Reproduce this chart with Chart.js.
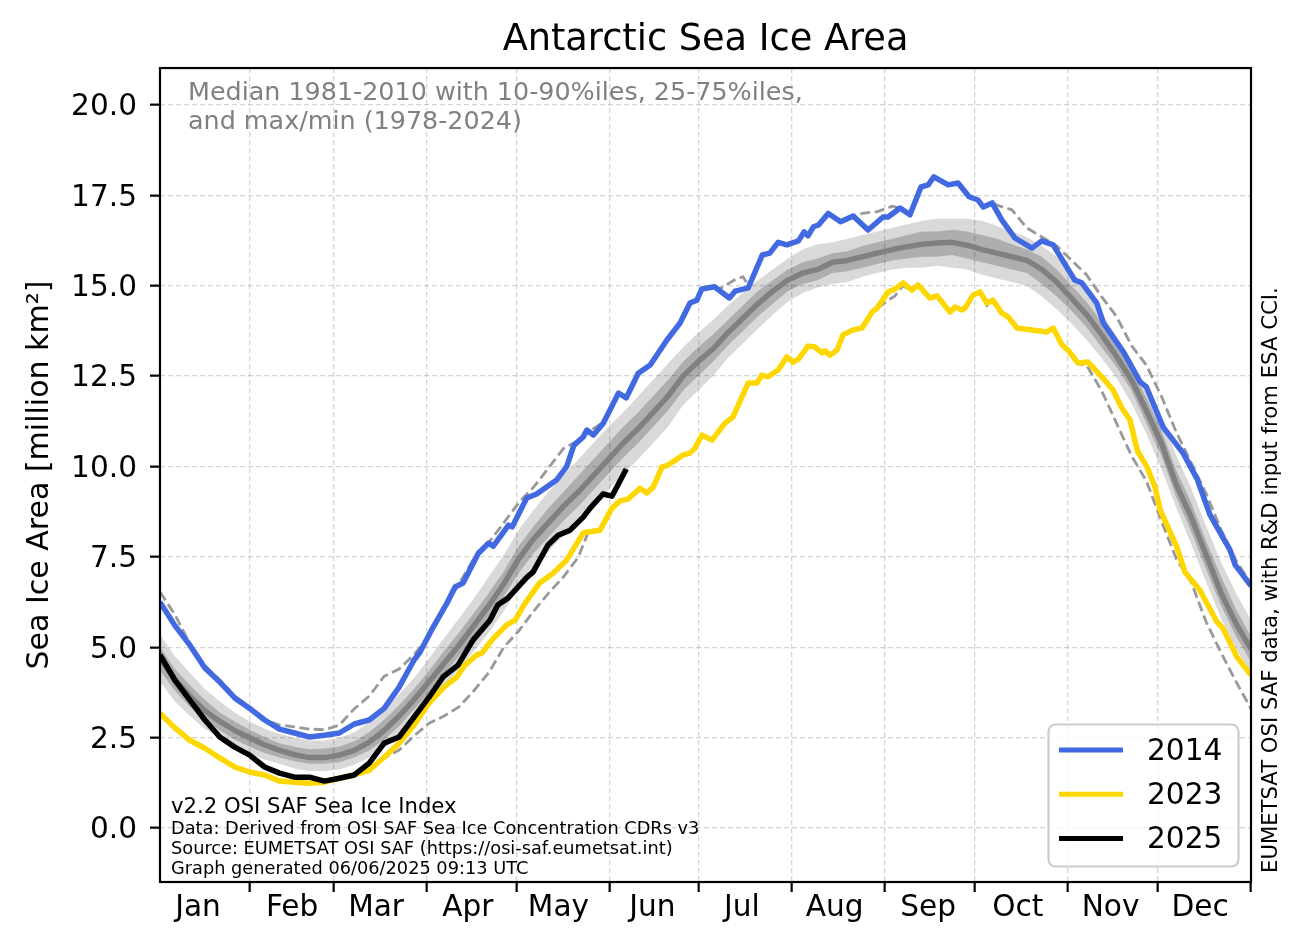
<!DOCTYPE html>
<html>
<head>
<meta charset="utf-8">
<title>Antarctic Sea Ice Area</title>
<script src="https://cdn.jsdelivr.net/npm/chart.js@4"></script>
<style>
  html, body { margin: 0; padding: 0; background: #fff; }
  canvas { display: block; }
</style>
</head>
<body>
<canvas id="chart" width="1303" height="943"></canvas>
<script>
const monthNames = ["Jan", "Feb", "Mar", "Apr", "May", "Jun", "Jul", "Aug", "Sep", "Oct", "Nov", "Dec"];
const monthLabelDays = [12.7, 44.2, 72.3, 103, 133.3, 164.7, 194.7, 225.7, 257, 287, 318, 348];
const monthEdgeDays = [30.1, 58.2, 89.3, 119.4, 150.5, 180.3, 211.4, 242.5, 272.6, 303.7, 333.8, 365];
const yTicks = [0, 2.5, 5, 7.5, 10, 12.5, 15, 17.5, 20];

const days2014 = [
  0, 5, 10, 15, 20, 25, 30, 35, 40, 45,
  50, 55, 60, 65, 70, 75, 80, 85, 87, 91.4,
  96, 98.7, 101.4, 106.5, 109.9, 111.5, 116.6, 117.8, 122.7, 126,
  132.7, 136, 138.5, 141.6, 142.8, 145, 148.3, 153.4, 156, 160,
  164, 169.6, 174, 177.3, 179.6, 181.3, 185.5, 190.5, 192.4, 196.8,
  201.5, 204, 206.8, 209.7, 213.6, 215.5, 216.8, 218.6, 220.3, 223.6,
  227.7, 231.9, 236.9, 241.9, 243.6, 247.6, 250.9, 254.6, 257, 258.9,
  263.7, 267, 270.7, 273.7, 275.4, 278.4, 281.6, 286, 291.7, 295,
  298.8, 306, 308.4, 313.4, 315.6, 322.3, 327.9, 330, 335.6, 342.3,
  347, 351.3, 358, 359.7, 365
];
const values2014 = [
  6.25, 5.6, 5.06, 4.43, 4.04, 3.6, 3.31, 2.99, 2.74, 2.63,
  2.52, 2.57, 2.63, 2.88, 2.99, 3.31, 3.9, 4.65, 4.87, 5.56,
  6.22, 6.67, 6.78, 7.6, 7.88, 7.8, 8.38, 8.33, 9.13, 9.24,
  9.63, 9.99, 10.59, 10.82, 11.01, 10.87, 11.2, 12.03, 11.9, 12.58,
  12.81, 13.5, 13.97, 14.52, 14.6, 14.91, 14.97, 14.66, 14.85, 14.94,
  15.85, 15.9, 16.2, 16.13, 16.24, 16.49, 16.38, 16.63, 16.68, 17.0,
  16.77, 16.93, 16.54, 16.9, 16.9, 17.15, 16.96, 17.73, 17.79, 18.01,
  17.79, 17.84, 17.46, 17.37, 17.18, 17.29, 16.82, 16.32, 16.04, 16.24,
  16.13, 15.16, 15.08, 14.52, 13.97, 13.17, 12.34, 12.2, 11.09, 10.37,
  9.65, 8.66, 7.69, 7.28, 6.7
];
const days2023 = [
  0, 5, 10, 15, 20, 25, 30, 35, 40, 45,
  50, 55, 60, 65, 70, 75, 80, 85, 90, 95,
  99.3, 102, 106, 107.7, 111, 116, 118.8, 122, 127, 131.5,
  136, 141.6, 143.2, 147.2, 151.2, 153.9, 156.6, 160.6, 162.9, 165,
  168, 170, 175, 177.3, 179, 181.3, 184.7, 189, 191.7, 196.8,
  199.7, 201.4, 203.4, 206.8, 209.7, 211.8, 213.6, 216.8, 219, 221.5,
  222.5, 224.2, 226.5, 228.5, 231.9, 234.9, 238.2, 239.9, 243.6, 245.9,
  248.6, 251.6, 253.6, 257.6, 260, 264.3, 266, 268.3, 269.3, 272,
  274.3, 276.7, 278.7, 281.6, 283.7, 286.7, 296.7, 298.8, 301.8, 303.8,
  307.1, 310.5, 315.1, 318.8, 321.8, 324.5, 327, 330.2, 332.9, 334.6,
  340.2, 342.9, 347.9, 353.6, 355.6, 360.3, 365
];
const values2023 = [
  3.18, 2.77, 2.43, 2.21, 1.94, 1.69, 1.55, 1.47, 1.3, 1.27,
  1.24, 1.27, 1.38, 1.47, 1.6, 1.96, 2.35, 2.85, 3.46, 3.9,
  4.18, 4.51, 4.79, 4.84, 5.2, 5.62, 5.75, 6.2, 6.78, 7.05,
  7.41, 8.16, 8.19, 8.24, 8.85, 9.05, 9.1, 9.4, 9.27, 9.43,
  9.99, 10.04, 10.32, 10.37, 10.51, 10.87, 10.73, 11.2, 11.37, 12.31,
  12.31, 12.53, 12.48, 12.67, 13.03, 12.89, 12.97, 13.33, 13.31, 13.14,
  13.2, 13.08, 13.22, 13.64, 13.78, 13.83, 14.27, 14.38, 14.83, 14.91,
  15.08, 14.88, 15.02, 14.66, 14.72, 14.27, 14.41, 14.33, 14.38, 14.74,
  14.83, 14.52, 14.6, 14.25, 14.14, 13.83, 13.72, 13.83, 13.36, 13.22,
  12.86, 12.89, 12.48, 12.12, 11.62, 11.29, 10.43, 9.99, 9.43, 8.8,
  7.77, 7.08, 6.58, 5.7, 5.53, 4.73, 4.23
];
const days2025 = [
  0, 5, 10, 15, 20, 25, 30, 35, 40, 45,
  50, 55, 60, 65, 70, 75, 80, 85, 90, 94.7,
  99.7, 104.7, 110.4, 113, 116.4, 122.8, 124.8, 129.8, 133.2, 137.2,
  141.6, 143.9, 148.2, 151.2, 156
];
const values2025 = [
  4.79, 4.09, 3.54, 2.99, 2.52, 2.24, 2.02, 1.69, 1.52, 1.41,
  1.41, 1.3, 1.38, 1.47, 1.8, 2.35, 2.52, 3.07, 3.62, 4.18,
  4.51, 5.2, 5.75, 6.17, 6.36, 6.94, 7.08, 7.83, 8.1, 8.24,
  8.6, 8.85, 9.24, 9.18, 9.93
];

const bandDays = [
  0, 5, 10, 15, 20, 25, 30, 35, 40, 45,
  50, 55, 60, 65, 70, 75, 80, 85, 90, 95,
  100, 105, 110, 115, 120, 125, 130, 135, 140, 145,
  150, 155, 160, 165, 170, 175, 180, 185, 190, 195,
  200, 205, 210, 215, 220, 225, 230, 235, 240, 245,
  250, 255, 260, 265, 270, 275, 280, 285, 290, 295,
  300, 305, 310, 315, 320, 325, 330, 335, 340, 345,
  350, 355, 360, 365
];
const median = [
  4.7, 4.1, 3.65, 3.25, 2.95, 2.7, 2.5, 2.3, 2.15, 2.03,
  1.95, 1.95, 2.02, 2.15, 2.38, 2.7, 3.1, 3.55, 4.05, 4.55,
  5.05, 5.6, 6.15, 6.75, 7.45, 8.0, 8.45, 8.9, 9.3, 9.75,
  10.2, 10.65, 11.05, 11.5, 11.95, 12.5, 12.9, 13.25, 13.7, 14.1,
  14.5, 14.85, 15.15, 15.35, 15.45, 15.65, 15.7, 15.8, 15.9, 16.0,
  16.08, 16.15, 16.18, 16.2, 16.12, 16.0, 15.9, 15.8, 15.7, 15.45,
  15.1, 14.65, 14.2, 13.65, 13.05, 12.4, 11.55, 10.65, 9.5, 8.6,
  7.55, 6.5, 5.65, 4.95
];
const p90 = [
  5.35, 4.75, 4.3, 3.85, 3.5, 3.2, 2.95, 2.75, 2.6, 2.5,
  2.42, 2.42, 2.5, 2.65, 2.92, 3.25, 3.7, 4.15, 4.7, 5.25,
  5.8, 6.35, 6.95, 7.55, 8.25, 8.8, 9.3, 9.75, 10.2, 10.65,
  11.1, 11.5, 11.95, 12.4, 12.85, 13.3, 13.7, 14.05, 14.45, 14.8,
  15.15, 15.45, 15.75, 16.0, 16.15, 16.2, 16.3, 16.4, 16.5, 16.6,
  16.7, 16.8, 16.85, 16.85, 16.85, 16.8, 16.65, 16.5, 16.35, 16.1,
  15.8, 15.35, 14.85, 14.25, 13.6, 12.95, 12.15, 11.35, 10.3, 9.4,
  8.35, 7.35, 6.5, 5.75
];
const p75 = [
  5.0, 4.4, 3.95, 3.55, 3.2, 2.95, 2.72, 2.52, 2.35, 2.25,
  2.18, 2.2, 2.26, 2.4, 2.65, 3.0, 3.4, 3.85, 4.35, 4.9,
  5.4, 5.95, 6.5, 7.1, 7.8, 8.35, 8.85, 9.3, 9.75, 10.2,
  10.65, 11.1, 11.5, 11.95, 12.4, 12.9, 13.3, 13.65, 14.05, 14.45,
  14.85, 15.15, 15.45, 15.65, 15.75, 15.9, 15.95, 16.1, 16.2, 16.3,
  16.4, 16.5, 16.5, 16.55, 16.5, 16.4, 16.3, 16.15, 16.0, 15.8,
  15.45, 15.0, 14.55, 14.0, 13.35, 12.7, 11.9, 11.0, 9.9, 9.0,
  7.95, 6.95, 6.05, 5.3
];
const p25 = [
  4.35, 3.8, 3.35, 3.0, 2.7, 2.45, 2.25, 2.08, 1.95, 1.85,
  1.78, 1.78, 1.82, 1.95, 2.15, 2.45, 2.82, 3.28, 3.75, 4.25,
  4.75, 5.25, 5.8, 6.4, 7.05, 7.6, 8.05, 8.5, 8.9, 9.35,
  9.8, 10.25, 10.65, 11.1, 11.55, 12.1, 12.5, 12.9, 13.35, 13.75,
  14.15, 14.5, 14.85, 15.05, 15.15, 15.35, 15.4, 15.5, 15.6, 15.7,
  15.75, 15.8, 15.8, 15.85, 15.75, 15.65, 15.55, 15.45, 15.35, 15.05,
  14.7, 14.3, 13.85, 13.3, 12.75, 12.1, 11.2, 10.3, 9.15, 8.2,
  7.15, 6.15, 5.3, 4.6
];
const p10 = [
  4.05, 3.5, 3.1, 2.75, 2.5, 2.25, 2.05, 1.9, 1.78, 1.65,
  1.58, 1.58, 1.62, 1.75, 1.95, 2.22, 2.55, 3.0, 3.45, 3.9,
  4.4, 4.9, 5.4, 6.0, 6.65, 7.2, 7.65, 8.1, 8.5, 8.95,
  9.35, 9.8, 10.2, 10.65, 11.1, 11.7, 12.1, 12.5, 13.0, 13.4,
  13.8, 14.2, 14.55, 14.8, 14.95, 15.05, 15.1, 15.25, 15.35, 15.45,
  15.5, 15.5, 15.55, 15.5, 15.45, 15.3, 15.2, 15.1, 15.0, 14.7,
  14.35, 13.95, 13.5, 13.0, 12.45, 11.75, 10.9, 9.95, 8.85, 7.85,
  6.8, 5.8, 4.95, 4.3
];

const daysMax = [
  0, 5, 10, 15, 20, 25, 30, 35, 40, 45,
  50, 55, 60, 65, 70, 75, 80, 85, 90, 95,
  100, 105, 110, 115, 120, 125, 130, 135, 140, 145,
  148.3, 153.4, 156, 160, 164, 169.6, 174, 177.3, 179.6, 181.3,
  185.5, 187, 192, 195, 197, 201.5, 204, 206.8, 209.7, 213.6,
  215.5, 216.8, 218.6, 220.3, 223.6, 227.7, 231.9, 235, 240, 245,
  247.6, 250.9, 254.6, 257, 258.9, 263.7, 267, 270.7, 273.7, 275.4,
  278.4, 281, 285, 290, 295, 300, 305, 310, 315, 320,
  325, 330, 335, 340, 345, 350, 355, 360, 365
];
const recordMax = [
  6.53, 5.9, 5.1, 4.5, 4.1, 3.65, 3.35, 3.0, 2.85, 2.8,
  2.74, 2.72, 2.85, 3.3, 3.65, 4.2, 4.4, 4.8, 5.3, 6.05,
  6.75, 7.45, 7.9, 8.44, 9.0, 9.43, 9.96, 10.5, 10.72, 11.05,
  11.22, 12.03, 11.9, 12.58, 12.81, 13.5, 13.97, 14.52, 14.6, 14.91,
  14.97, 14.9, 15.15, 15.25, 15.0, 15.85, 15.9, 16.2, 16.13, 16.24,
  16.49, 16.38, 16.63, 16.68, 17.0, 16.77, 16.93, 17.0, 17.05, 17.2,
  17.15, 16.96, 17.73, 17.79, 18.01, 17.79, 17.84, 17.46, 17.37, 17.18,
  17.29, 17.2, 17.1, 16.6, 16.35, 16.1, 15.7, 15.3, 14.7, 14.15,
  13.35, 12.8, 11.95, 10.95, 10.1, 9.25, 8.25, 7.4, 6.75
];
const daysMin = [
  0, 5, 10, 15, 20, 25, 30, 35, 40, 45,
  50, 55, 60, 65, 70, 75, 80, 85, 90, 95,
  100, 105, 110, 115, 120, 125, 130, 135, 140, 143.2,
  147.2, 151.2, 153.9, 156.6, 160.6, 162.9, 165, 168, 170, 175,
  177.3, 179, 181.3, 184.7, 189, 191.7, 196.8, 199.7, 201.4, 203.4,
  206.8, 209.7, 211.8, 213.6, 216.8, 219, 221.5, 222.5, 224.2, 226.5,
  228.5, 231.9, 234.9, 238.2, 239.9, 243.6, 245.9, 248.6, 251.6, 253.6,
  257.6, 260, 264.3, 266, 268.3, 269.3, 272, 274.3, 276.7, 278.7,
  281.6, 283.7, 286.7, 296.7, 298.8, 301.8, 303.8, 307.1, 310, 315,
  320, 325, 330, 335, 340, 345, 350, 355, 360, 365
];
const recordMin = [
  3.15, 2.75, 2.4, 2.18, 1.92, 1.67, 1.53, 1.45, 1.28, 1.25,
  1.22, 1.25, 1.36, 1.45, 1.58, 1.94, 2.16, 2.55, 2.9, 3.1,
  3.35, 3.8, 4.3, 5.0, 5.45, 6.0, 6.5, 6.95, 7.5, 8.17,
  8.22, 8.83, 9.03, 9.08, 9.38, 9.25, 9.41, 9.97, 10.02, 10.3,
  10.35, 10.49, 10.85, 10.71, 11.18, 11.35, 12.29, 12.29, 12.51, 12.46,
  12.65, 13.01, 12.87, 12.95, 13.31, 13.29, 13.12, 13.18, 13.06, 13.2,
  13.62, 13.76, 13.81, 14.25, 14.36, 14.6, 14.72, 15.0, 14.86, 15.0,
  14.64, 14.7, 14.25, 14.39, 14.31, 14.36, 14.72, 14.81, 14.45, 14.58,
  14.23, 14.12, 13.81, 13.7, 13.81, 13.34, 13.2, 12.84, 12.8, 12.1,
  11.2, 10.3, 9.6, 8.5, 7.45, 6.8, 5.7, 4.85, 4.05, 3.3
];

const FONT = '"DejaVu Sans", sans-serif';

function pts(days, values) {
  return days.map((d, i) => ({ x: d, y: values[i] }));
}

function yearLine(label, days, values, color) {
  return { label, data: pts(days, values), borderColor: color, backgroundColor: color, borderWidth: 5.5, borderJoinStyle: "round" };
}

function dashedLine(label, days, values) {
  return { label, data: pts(days, values), borderColor: "#999999", borderWidth: 2.8, borderDash: [10, 4.5] };
}

function bandEdge(label, values, fill, bg) {
  return { label, data: pts(bandDays, values), borderWidth: 0, borderColor: "transparent", fill: fill, backgroundColor: bg };
}

// first dataset ends up on top, chart.js draws them back to front
const datasets = [
  yearLine("2025", days2025, values2025, "#000000"),
  yearLine("2023", days2023, values2023, "#ffd700"),
  yearLine("2014", days2014, values2014, "#4169e1"),
  dashedLine("max", daysMax, recordMax),
  dashedLine("min", daysMin, recordMin),
  { label: "median", data: pts(bandDays, median), borderColor: "#808080", borderWidth: 5.5, borderJoinStyle: "round" },
  bandEdge("p75", p75, { target: 7 }, "rgba(0,0,0,0.2)"),
  bandEdge("p25", p25, false, "transparent"),
  bandEdge("p90", p90, { target: 9 }, "rgba(0,0,0,0.15)"),
  bandEdge("p10", p10, false, "transparent")
];

const legendYears = ["2014", "2023", "2025"];

const decorations = {
  id: "decorations",
  beforeDraw(chart) {
    // middle baseline sits a little high for digits
    chart.scales.y.getLabelItems().forEach((item) => { item.textOffset += 2.5; });
  },
  afterDatasetsDraw(chart) {
    const ctx = chart.ctx;

    // legend box, bottom right
    ctx.save();
    ctx.beginPath();
    ctx.roundRect(1048.5, 724.5, 190, 142, 7);
    ctx.fillStyle = "rgba(255,255,255,0.8)";
    ctx.fill();
    ctx.strokeStyle = "#cccccc";
    ctx.lineWidth = 2.2;
    ctx.stroke();
    ctx.font = "29.6px " + FONT;
    ctx.textBaseline = "middle";
    legendYears.forEach((year, i) => {
      const ds = chart.data.datasets.find((d) => d.label === year);
      const y = 750 + i * 44.3;
      ctx.beginPath();
      ctx.moveTo(1059, y);
      ctx.lineTo(1123, y);
      ctx.strokeStyle = ds.borderColor;
      ctx.lineWidth = 5;
      ctx.stroke();
      ctx.fillStyle = "#000";
      ctx.fillText(year, 1147, y + 2);
    });
    ctx.restore();
  },
  afterDraw(chart) {
    const ctx = chart.ctx;
    const a = chart.chartArea;

    ctx.save();
    ctx.strokeStyle = "#000";
    ctx.lineWidth = 2.2;
    ctx.strokeRect(a.left, a.top, a.right - a.left, a.bottom - a.top);

    ctx.textBaseline = "alphabetic";
    ctx.fillStyle = "#808080";
    ctx.font = "25.4px " + FONT;
    ctx.fillText("Median 1981-2010 with 10-90%iles, 25-75%iles,", 188, 100);
    ctx.fillText("and max/min (1978-2024)", 188, 129);

    ctx.fillStyle = "#000";
    ctx.font = "21.2px " + FONT;
    ctx.fillText("v2.2 OSI SAF Sea Ice Index", 171, 813);
    ctx.font = "17.75px " + FONT;
    ctx.fillText("Data: Derived from OSI SAF Sea Ice Concentration CDRs v3", 171, 834);
    ctx.fillText("Source: EUMETSAT OSI SAF (https://osi-saf.eumetsat.int)", 171, 854);
    ctx.fillText("Graph generated 06/06/2025 09:13 UTC", 171, 874);

    ctx.translate(1277, 873);
    ctx.rotate(-Math.PI / 2);
    ctx.font = "21.2px " + FONT;
    ctx.fillText("EUMETSAT OSI SAF data, with R&D input from ESA CCI.", 0, 0);
    ctx.restore();
  }
};

new Chart(document.getElementById("chart"), {
  type: "line",
  data: { datasets },
  options: {
    responsive: false,
    animation: false,
    devicePixelRatio: 1,
    parsing: false,
    normalized: true,
    elements: { point: { radius: 0 }, line: { tension: 0 } },
    layout: { padding: { right: 52 } },
    plugins: {
      legend: { display: false },
      tooltip: { enabled: false },
      title: {
        display: true,
        text: "Antarctic Sea Ice Area",
        fullSize: false,
        color: "#000",
        font: { family: FONT, size: 36.7, weight: "normal" },
        padding: { top: 18, bottom: 6 }
      }
    },
    scales: {
      x: {
        type: "linear",
        min: 0,
        max: 365,
        afterFit(scale) { scale.height = 61; },
        afterBuildTicks(scale) {
          scale.ticks = [...monthLabelDays, ...monthEdgeDays].sort((a, b) => a - b).map((v) => ({ value: v }));
        },
        border: { display: false, dash: [5, 3] },
        grid: {
          drawTicks: true,
          tickLength: 10,
          tickWidth: 2.2,
          tickBorderDash: [],
          lineWidth: 1.3,
          color: (c) => (monthEdgeDays.includes(c.tick?.value) ? "rgba(128,128,128,0.33)" : "transparent"),
          tickColor: (c) => (monthEdgeDays.includes(c.tick?.value) ? "#000" : "transparent")
        },
        ticks: {
          autoSkip: false,
          maxRotation: 0,
          padding: -1,
          color: "#000",
          font: { family: FONT, size: 29.6 },
          callback(value) {
            const i = monthLabelDays.indexOf(value);
            return i >= 0 ? monthNames[i] : "";
          }
        }
      },
      y: {
        type: "linear",
        min: -1.49,
        max: 21.02,
        afterFit(scale) { scale.width = 160; },
        afterBuildTicks(scale) {
          scale.ticks = yTicks.map((v) => ({ value: v }));
        },
        title: {
          display: true,
          text: "Sea Ice Area [million km²]",
          color: "#000",
          font: { family: FONT, size: 30 },
          padding: { top: 22, bottom: 0 }
        },
        border: { display: false, dash: [5, 3] },
        grid: {
          tickLength: 10,
          tickWidth: 2.2,
          tickBorderDash: [],
          lineWidth: 1.3,
          color: "rgba(128,128,128,0.33)",
          tickColor: "#000"
        },
        ticks: {
          padding: 13,
          color: "#000",
          font: { family: FONT, size: 29.6 },
          callback: (value) => value.toFixed(1)
        }
      }
    }
  },
  plugins: [decorations]
});
</script>
</body>
</html>
